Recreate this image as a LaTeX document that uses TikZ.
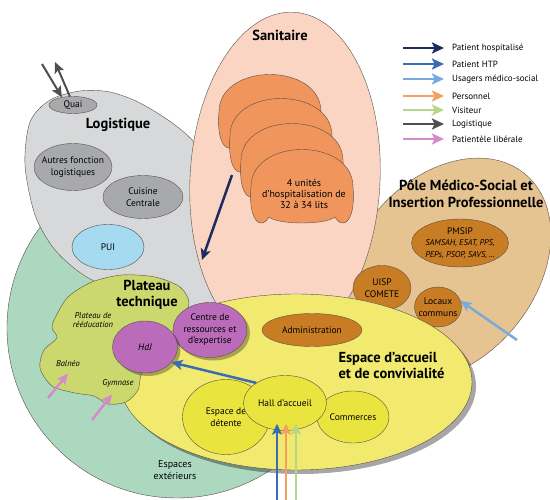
\documentclass[tikz,border=0pt]{standalone}
\usepackage{fontspec}
\setmainfont{PT Sans}
\usetikzlibrary{shapes.geometric,arrows.meta,shadows}

\definecolor{exterieur}{RGB}{172,216,192}
\definecolor{logizone}{RGB}{214,216,218}
\definecolor{logibox}{RGB}{167,169,172}
\definecolor{puiblue}{RGB}{166,218,240}
\definecolor{sanizone}{RGB}{250,213,195}
\definecolor{unitorange}{RGB}{240,150,92}
\definecolor{polezone}{RGB}{230,196,146}
\definecolor{ochre}{RGB}{200,124,36}
\definecolor{accueilzone}{RGB}{242,234,110}
\definecolor{accueilbox}{RGB}{234,228,62}
\definecolor{plateauzone}{RGB}{202,216,110}
\definecolor{hdjpurple}{RGB}{186,108,186}
\definecolor{hospit}{RGB}{28,44,94}
\definecolor{htp}{RGB}{58,108,180}
\definecolor{medsoc}{RGB}{120,170,220}
\definecolor{personnel}{RGB}{245,160,95}
\definecolor{visiteur}{RGB}{182,214,140}
\definecolor{logist}{RGB}{80,80,80}
\definecolor{liberal}{RGB}{212,140,200}
\definecolor{inkline}{RGB}{90,80,70}

\newcommand\zonefont{\fontsize{14.5}{16}\selectfont\bfseries}
\newcommand\roomfont{\fontsize{9.5}{11.5}\selectfont}
\newcommand\smallit{\fontsize{8.5}{9.5}\selectfont\itshape}
\newcommand\legendfont{\fontsize{9}{11}\selectfont}

\tikzset{
  zone/.style={draw=inkline, line width=0.4pt},
  room/.style={ellipse, draw=inkline, line width=0.4pt, inner sep=-12pt, align=center, font=\roomfont},
  flow/.style={line width=2.5pt, -{Stealth[length=11pt,width=10pt,inset=2.5pt]}},
  legarrow/.style={line width=2.8pt, -{Stealth[length=12pt,width=11pt,inset=2.5pt]}},
  legtext/.style={anchor=west, font=\legendfont, inner sep=0pt},
  hospunit/.pic={
    \draw[zone, fill=unitorange] (-51,0) .. controls (-51,-50) and (51,-50) .. (51,0)
      .. controls (53,22) and (48,36) .. (41,36) .. controls (37,36) and (35,33) .. (33,30)
      .. controls (24,38) and (-24,38) .. (-33,30) .. controls (-35,33) and (-37,36) .. (-41,36)
      .. controls (-48,36) and (-53,22) .. (-51,0) -- cycle;
  }
}

\begin{document}
\begin{tikzpicture}[x=1pt, y=-1pt]
  \useasboundingbox (0,0) rectangle (550,500);

  % zones
  \node[zone, circle, fill=exterieur, minimum size=340pt, inner sep=0pt] (exterieurs) at (177,328) {};
  \draw[zone, fill=logizone] plot[smooth cycle] coordinates {(30,122) (50,100) (80,91) (110,92) (140,103) (175,125) (200,150) (220,200) (228,260) (220,305) (175,306) (125,294) (85,276) (55,250) (35,215) (25,165)};
  \node[zone, ellipse, fill=polezone, minimum width=250pt, minimum height=180pt, rotate=50] (pole) at (445,270) {};
  \node[zone, ellipse, fill=sanizone, minimum width=190pt, minimum height=336pt, rotate=-3] (sanitaire) at (285,180) {};

  % sanitaire
  \pic at (270,112) {hospunit};
  \pic at (281,136) {hospunit};
  \pic at (292,161) {hospunit};
  \pic at (302,187) {hospunit};
  \node[font=\zonefont] (sanitairetitle) at (280,35) {Sanitaire};
  \node[align=center, font={\fontsize{10}{11}\selectfont}] (unites) at (304,194) {4 unités\\d'hospitalisation de\\32 à 34 lits};

  % logistique
  \node[room, fill=logibox, minimum width=48pt, minimum height=17pt] (quai) at (73,105) {Quai};
  \node[font=\zonefont] (logtitle) at (118,125) {Logistique};
  \node[room, fill=logibox, minimum width=78pt, minimum height=47pt] (autres) at (73,167) {Autres fonction\\logistiques};
  \node[room, fill=logibox, minimum width=80pt, minimum height=43pt] (cuisine) at (143,197) {Cuisine\\Centrale};
  \node[room, fill=puiblue, minimum width=72pt, minimum height=45pt] (pui) at (108,247) {PUI};

  % pole medico-social
  \node[font={\fontsize{14.5}{17}\selectfont\bfseries}, align=center] (poletitle) at (466,194) {Pôle Médico-Social et\\Insertion Professionnelle};
  \node[room, fill=ochre, minimum width=97pt, minimum height=48pt] (pmsip) at (460,243) {PMSIP\\{\smallit SAMSAH, ESAT, PPS,}\\{\smallit PEPs, PSOP, SAVS, ...}};
  \node[room, fill=ochre, minimum width=58pt, minimum height=45pt] (uisp) at (382,288) {UISP\\COMETE};
  \node[room, fill=ochre, minimum width=47pt, minimum height=40pt] (locaux) at (438,307) {Locaux\\communs};

  % espace d'accueil
  \node[zone, ellipse, fill=accueilzone, minimum width=352pt, minimum height=176pt,
    drop shadow={shadow xshift=4pt, shadow yshift=-4pt, fill=black, opacity=0.35}] (accueil) at (296,382) {};
  \node[room, fill=ochre, minimum width=100pt, minimum height=33pt] (admin) at (312,330) {Administration};
  \node[font=\zonefont, align=left, anchor=west] (accueiltitle) at (335,365) {Espace d'accueil\\et de convivialité};
  \node[room, fill=accueilbox, minimum width=87pt, minimum height=75pt] (detente) at (226,417) {Espace de\\détente};
  \node[room, fill=accueilbox, minimum width=72pt, minimum height=52pt] (commerces) at (353,417) {Commerces};
  \node[room, fill=accueilbox, minimum width=83pt, minimum height=55pt] (hall) at (285,403) {Hall d'accueil};
  \node[align=center, font={\fontsize{10}{11.5}\selectfont}] (extlabel) at (175,470) {Espaces\\extérieurs};

  % plateau technique
  \draw[zone, fill=plateauzone] plot[smooth cycle] coordinates {(55,318) (68,297) (92,282) (122,275) (155,277) (180,287) (189,303) (180,322) (160,345) (142,372) (138,390) (126,402) (108,404) (94,396) (75,393) (52,386) (40,368) (44,350) (57,338) (52,328)};
  \node[font=\zonefont, align=center] (plateautitle) at (147,295) {Plateau\\technique};
  \node[font=\smallit, align=center] (reeduc) at (93,320) {Plateau de\\rééducation};
  \node[font=\smallit] (balneo) at (68,363) {Balnéo};
  \node[font=\smallit] (gymnase) at (118,383) {Gymnase};
  \node[room, fill=hdjpurple, minimum width=74pt, minimum height=55pt,
    drop shadow={shadow xshift=3pt, shadow yshift=-3pt, fill=black, opacity=0.3}] (centre) at (210,330) {Centre de\\ressources et\\d'expertise};
  \node[room, fill=hdjpurple, minimum width=65pt, minimum height=52pt,
    drop shadow={shadow xshift=3pt, shadow yshift=-3pt, fill=black, opacity=0.3}] (hdj) at (145,347) {\itshape HdJ};

  % free ends of the flows
  \coordinate (quaiin) at (42,64);
  \coordinate (quaiout) at (55,62);
  \coordinate (hospfrom) at (232,175);
  \coordinate (hospto) at (202,260);
  \coordinate (medsocin) at (517,340);
  \coordinate (balneoin) at (48,398);
  \coordinate (gymin) at (92,420);
  \coordinate (htpin) at (277,500);
  \coordinate (persin) at (286,500);
  \coordinate (visin) at (296,500);

  % flows
  \draw[flow, logist, line width=2pt] (quaiin) -- (quai.145);
  \draw[flow, logist, line width=2pt] (quai.110) -- (quaiout);
  \draw[flow, hospit] (hospfrom) -- (hospto);
  \draw[flow, medsoc] (medsocin) -- (locaux.15);
  \draw[flow, htp] (hall.145) -- (hdj.-30);
  \draw[flow, liberal] (balneoin) -- ([yshift=-4pt]balneo.south);
  \draw[flow, liberal] (gymin) -- ([xshift=-6pt,yshift=-4pt]gymnase.south);
  \draw[flow, htp] (htpin) -- ([yshift=7pt]htpin |- hall.south);
  \draw[flow, personnel] (persin) -- ([yshift=7pt]persin |- hall.south);
  \draw[flow, visiteur] (visin) -- ([yshift=7pt]visin |- hall.south);

  % legend
  \node[legtext] (lg1) at (452,48) {Patient hospitalisé};
  \node[legtext] (lg2) at (452,64) {Patient HTP};
  \node[legtext] (lg3) at (452,79) {Usagers médico-social};
  \node[legtext] (lg4) at (452,96) {Personnel};
  \node[legtext] (lg5) at (452,110) {Visiteur};
  \node[legtext] (lg6) at (452,124) {Logistique};
  \node[legtext] (lg7) at (452,139) {Patientèle libérale};
  \draw[legarrow, hospit] ([xshift=-49pt]lg1.west) -- ([xshift=-8pt]lg1.west);
  \draw[legarrow, htp] ([xshift=-49pt]lg2.west) -- ([xshift=-8pt]lg2.west);
  \draw[legarrow, medsoc] ([xshift=-49pt]lg3.west) -- ([xshift=-8pt]lg3.west);
  \draw[legarrow, personnel] ([xshift=-49pt]lg4.west) -- ([xshift=-8pt]lg4.west);
  \draw[legarrow, visiteur] ([xshift=-49pt]lg5.west) -- ([xshift=-8pt]lg5.west);
  \draw[legarrow, logist] ([xshift=-49pt]lg6.west) -- ([xshift=-8pt]lg6.west);
  \draw[legarrow, liberal] ([xshift=-49pt]lg7.west) -- ([xshift=-8pt]lg7.west);
\end{tikzpicture}
\end{document}
